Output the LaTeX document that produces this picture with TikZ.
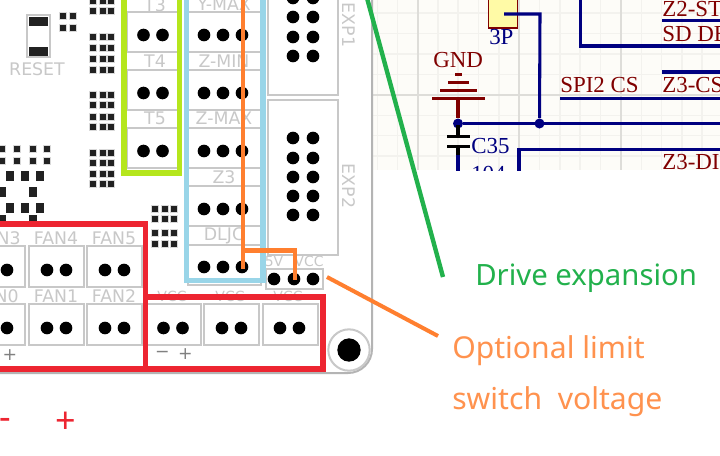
\documentclass[tikz,border=0pt]{standalone}
\usepackage{fontspec}
\setmainfont{Liberation Serif}
\setsansfont{DejaVu Sans}
\newfontfamily\noteface{Noto Sans}
\definecolor{silk}{HTML}{C8C8C8}
\definecolor{schbg}{HTML}{FDFCF8}
\definecolor{gridmajor}{HTML}{DEDDD9}
\definecolor{gridminor}{HTML}{F3F2EE}
\definecolor{wire}{HTML}{000080}
\definecolor{power}{HTML}{800000}
\definecolor{mred}{HTML}{ED2531}
\definecolor{mblue}{HTML}{99D5E8}
\definecolor{mlime}{HTML}{B5E61D}
\definecolor{morange}{HTML}{FF7F2F}
\definecolor{mgreen}{HTML}{22B14C}
\definecolor{padblk}{HTML}{222222}
\tikzset{
  conbox/.style={draw=silk,line width=1.5pt,fill=white},
  pin/.style={fill=black,draw=none,circle,inner sep=0pt,minimum size=9.5pt},
  silklabel/.style={text=silk,font=\sffamily\fontsize{13}{13}\selectfont,inner sep=0pt},
  smallsilk/.style={text=silk,font=\sffamily\fontsize{10.5}{10.5}\selectfont,inner sep=0pt},
  polarity/.style={text=gray,font=\sffamily\fontsize{13}{13}\selectfont,inner sep=0pt},
  smdpad/.style={fill=padblk,draw=silk!70,line width=.5pt,minimum size=5pt,inner sep=0pt},
  wireline/.style={draw=wire,line width=2.3pt},
  pwrline/.style={draw=power,line width=2.3pt},
  schname/.style={text=power,font=\fontsize{17.2}{17.2}\selectfont,inner sep=0pt,anchor=base west},
  schpart/.style={text=wire,font=\fontsize{17.2}{17.2}\selectfont,inner sep=0pt,anchor=base west},
  hlframe/.style={line width=3.8pt,fill=none},
  notegreen/.style={text=mgreen,font=\noteface\fontsize{22}{22}\selectfont,inner sep=0pt,anchor=base west},
  noteorange/.style={text=morange!85!white,font=\noteface\fontsize{22.6}{22.6}\selectfont,inner sep=0pt,anchor=base west},
  noteredsign/.style={text=mred,font=\noteface\fontsize{27}{27}\selectfont,inner sep=0pt,anchor=base},
}
\begin{document}
\begin{tikzpicture}[x=0.75pt,y=-0.75pt]
\path[use as bounding box,clip] (0,0) rectangle (720,455);
\fill[white] (0,0) rectangle (720,455);
% schematic panel
\begin{scope}
\clip (372,0) rectangle (720,170);
\fill[schbg] (372,0) rectangle (720,170);
\foreach \gx in {377.5,397.5,438,458,478.5,499,539.5,560,580,600.5,641.5,661.5,682,702}
  \draw[gridminor,line width=.8pt] (\gx,0) -- (\gx,170);
\foreach \gy in {13,33.5,54,74.5,115.5,135.5,156}
  \draw[gridminor,line width=.8pt] (372,\gy) -- (720,\gy);
\foreach \gx in {418,519,621}
  \draw[gridmajor,line width=.9pt] (\gx,0) -- (\gx,170);
\draw[gridmajor,line width=.9pt] (372,95) -- (720,95);
\node[draw=power,fill=yellow!35,line width=.8pt,minimum width=22pt,minimum height=30pt,inner sep=0pt] (part3p) at (503,8) {};
\coordinate (pin3p) at (504,14);
\coordinate (wirecorner) at (540,14);
\node[fill=wire,circle,inner sep=0pt,minimum size=7.5pt] (juncright) at (539.5,123.5) {};
\node[fill=wire,circle,inner sep=0pt,minimum size=7.5pt] (juncleft) at (458,123.5) {};
\coordinate (busend) at (720,123.5);
\draw[wireline] (pin3p) -- (wirecorner) -- (juncright);
\draw[wireline] (juncleft) -- (busend);
\draw[wireline] (580.5,-2) -- (580.5,46) -- (720,46);
\draw[wireline] (662,20.5) -- (720,20.5);
\draw[wireline] (662,72) -- (720,72);
\draw[wireline] (560,98.5) -- (720,98.5);
\draw[wireline] (519,172) -- (519,149.5) -- (720,149.5);
\draw[wireline] (458,155) -- (458,172);
\coordinate (gndtop) at (458,98.5);
\draw[pwrline] (gndtop) -- (juncleft);
\draw[pwrline] (432,98.5) -- (485,98.5);
\draw[pwrline] (440,90.5) -- (477,90.5);
\draw[pwrline] (448,82.5) -- (469,82.5);
\draw[pwrline] (455,74.5) -- (462,74.5);
\draw[black,line width=2.3pt] (447,136.5) -- (470,136.5);
\draw[black,line width=2.3pt] (447,146.5) -- (470,146.5);
\draw[black,line width=2.3pt] (458,125) -- (458,136.5);
\draw[black,line width=2.3pt] (458,146.5) -- (458,155);
\node[schpart] (t3p) at (489,44) {3P};
\node[schname] (tgnd) at (433,67) {GND};
\node[schname] (tspi) at (560,92) {SPI2 CS};
\node[schname] (tz2) at (662,16) {Z2-ST};
\node[schname] (tsd) at (662,41) {SD DE};
\node[schname] (tz3cs) at (662,92) {Z3-CS};
\node[schname] (tz3di) at (662,169) {Z3-DI};
\node[schpart] (tc35) at (471,153) {C35};
\node[schpart] (t104) at (471,181) {104};
\end{scope}
% board outline
\draw[silk!90!black,line width=1.5pt,rounded corners=18pt] (372,-5) -- (372,373) -- (-5,373);
% reset
\draw[silk,line width=1.5pt,fill=white] (27,15) rectangle (50,57);
\fill[padblk] (29,17) rectangle (48,26);
\fill[padblk] (29,47) rectangle (48,56);
\node[silklabel] (treset) at (37,69) {RESET};
% small pads
\foreach \px/\py [count=\i] in {63/16,73/16,63/28,73/28,
 93/1,103/1,111/1,93/11,103/11,111/11,93/37,103/37,111/37,93/48,103/48,111/48,
 93/59,103/59,111/59,93/70,103/70,111/70,93/95,103/95,111/95,93/105,103/105,111/105,
 93/117,103/117,111/117,93/127,103/127,111/127,93/153,103/153,111/153,93/163,103/163,111/163,
 93/174,103/174,111/174,93/184,103/184,111/184,
 155/209,165/209,174/209,155/219,165/219,174/219,155/233,165/233,174/233,155/244,165/244,174/244,
 2/149,17/149,33/149,47/149,2/161,17/161,33/161,47/161}
  \node[smdpad] (sp\i) at (\px,\py) {};
\foreach \px/\py [count=\i] in {10/176,25/176,40/176,2/192,33/192,10/208,25/208,40/208,2/220,33/220}
  \node[smdpad,draw=none,minimum width=6pt,minimum height=7pt] (tp\i) at (\px,\py) {};
% connectors
\foreach \bx/\by/\bw/\bh/\nm in {
 154/32/54/40/bt3,154/90/54/40/bt4,154/148/54/40/bt5,
 224.5/32/73/40/bl1,224.5/90/73/40/bl2,224.5/148/73/40/bl3,224.5/205.5/73/40/bl4,224.5/265/73/40/bl5,
 303/47/70/96/bexpa,303/177.5/70/155/bexpb,
 294.5/279/57/20/bsel,
 174/324.5/54/41/bv1,231.5/324.5/55/41/bv2,290.5/324.5/55/41/bv3,
 56.5/266.5/55/41/bf4,114.5/266.5/55/41/bf5,-2/266.5/54/41/bf3,
 56.5/324.5/55/41/bf1,114.5/324.5/55/41/bf2,-2/324.5/54/41/bf0}
  \node[conbox,inner sep=0pt,minimum width=\bw*0.75pt,minimum height=\bh*0.75pt] (\nm) at (\bx,\by) {};
\foreach \px/\py [count=\i] in {143.5/35,162.5/35,143.5/93,162.5/93,143.5/151,162.5/151,
 204/35,223/35,242/35,204/93,223/93,242/93,204/151,223/151,242/151,204/209,223/209,242/209,204/267,223/267,242/267,
 293/-2,313/-2,293/17,313/17,293/37,313/37,293/56,313/56,
 293/138,313/138,293/158,313/158,293/177,313/177,293/196,313/196,293/215,313/215,
 274/279,294/279,313/279,
 163.5/328,182.5/328,222/328,241/328,280/328,299/328,
 47/270,66/270,105/270,124/270,7/270,47/328,66/328,105/328,124/328,7/328}
  \node[pin] (pin\i) at (\px,\py) {};
% labels
\node[silklabel] (lt3) at (155,5) {T3};
\node[silklabel] (lt4) at (155,61) {T4};
\node[silklabel] (lt5) at (155,118) {T5};
\node[silklabel] (lym) at (224,4) {Y-MAX};
\node[silklabel] (lzmin) at (224,61) {Z-MIN};
\node[silklabel] (lzmax) at (224,118) {Z-MAX};
\node[silklabel] (lz3) at (224,177) {Z3};
\node[silklabel] (ldl) at (224,236) {DLJC};
\node[silklabel,rotate=-90] (lexp1) at (349,25) {EXP1};
\node[silklabel,rotate=-90] (lexp2) at (349,186) {EXP2};
\node[smallsilk] (l5v) at (274,261) {5V};
\node[smallsilk] (lvcc) at (309,261) {VCC};
\node[smallsilk] (lv1) at (172,296) {VCC};
\node[smallsilk] (lv2) at (230,296) {VCC};
\node[smallsilk] (lv3) at (288,296) {VCC};
\node[silklabel,anchor=east] (lf3) at (21,238) {N3};
\node[silklabel] (lf4) at (56,238) {FAN4};
\node[silklabel] (lf5) at (114,238) {FAN5};
\node[silklabel,anchor=east] (lf0) at (19,296) {N0};
\node[silklabel] (lf1) at (56,296) {FAN1};
\node[silklabel] (lf2) at (114,296) {FAN2};
\node[polarity] (pplus) at (10,355) {+};
\node[polarity] (vminus) at (162.5,354) {\textminus};
\node[polarity] (vplus) at (185.5,354) {+};
% hole
\node[circle,draw=silk,line width=1.5pt,fill=white,minimum size=31pt,inner sep=0pt] (ring) at (349,350) {};
\node[circle,fill=black,minimum size=17.5pt,inner sep=0pt] (hole) at (349,350) {};
% highlight frames
\draw[hlframe,mlime] (124,-5) -- (124,173) -- (179.5,173) -- (179.5,-5);
\draw[hlframe,mblue] (186.5,-5) -- (186.5,280.5) -- (263,280.5) -- (263,-5);
\draw[hlframe,mred] (-5,224) -- (145.5,224) -- (145.5,369) -- (-5,369);
\draw[hlframe,mred] (145.5,297) -- (323,297) -- (323,369) -- (145.5,369);
% annotation lines
\coordinate (ora) at (243,-3);
\coordinate (orb) at (243,269);
\coordinate (orc) at (243,250.5);
\coordinate (ord) at (295,250.5);
\coordinate (ore) at (295,280);
\draw[morange,line width=3.6pt] (ora) -- (orb);
\draw[morange,line width=3.6pt] (orc) -- (ord) -- (ore);
\coordinate (ola) at (327,277);
\coordinate (olb) at (438,336);
\draw[morange,line width=3pt] (ola) -- (olb);
\coordinate (gra) at (367,-2);
\coordinate (grb) at (443,277);
\draw[mgreen,line width=3.3pt] (gra) -- (grb);
% notes
\node[notegreen] (ndrive) at (475,285) {Drive expansion};
\node[noteorange] (nopt) at (452,358) {Optional limit};
\node[noteorange] (nswi) at (452,409) {switch\ \ voltage};
\node[noteredsign] (nminus) at (5,429) {-};
\node[noteredsign] (nplus) at (66,433) {+};
\end{tikzpicture}
\end{document}
